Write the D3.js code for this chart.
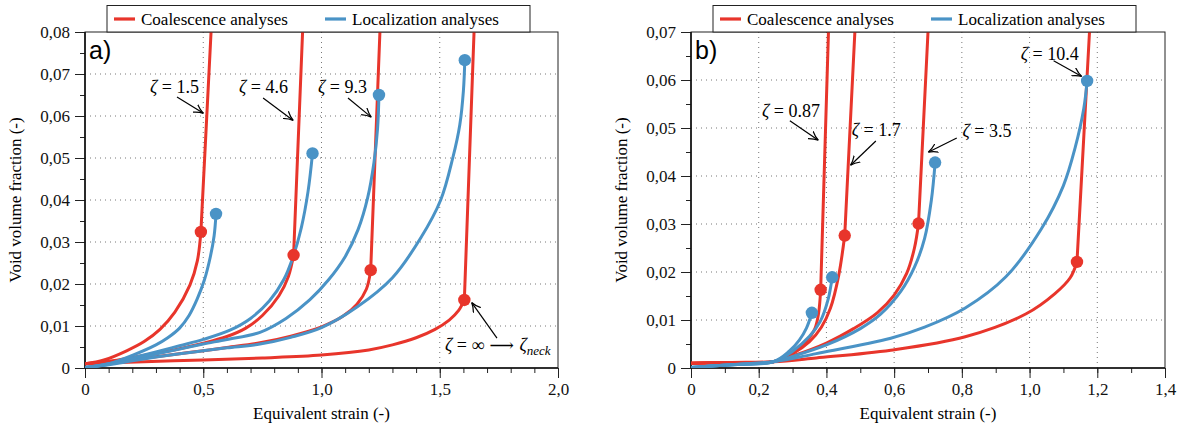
<!DOCTYPE html>
<html>
<head>
<meta charset="utf-8">
<script src="https://cdn.jsdelivr.net/npm/d3@7"></script>
<style>
body { margin: 0; background: #fff; }
</style>
</head>
<body>
<svg id="chart" width="1182" height="428" style="font-family: 'Liberation Serif', 'Times New Roman', serif"></svg>
<script>
// ---- panel a) data : [equivalent strain, void volume fraction]
var strainTicksA = [0, 0.5, 1.0, 1.5, 2.0];
var strainLabelsA = ["0", "0,5", "1,0", "1,5", "2,0"];
var fracTicksA = [0, 0.01, 0.02, 0.03, 0.04, 0.05, 0.06, 0.07, 0.08];
var fracLabelsA = ["0", "0,01", "0,02", "0,03", "0,04", "0,05", "0,06", "0,07", "0,08"];

var coalA_1_5 = [[0,0.001],[0.08,0.0019],[0.176,0.0041],[0.25,0.0063],[0.317,0.0092],[0.38,0.0133],[0.444,0.0198],[0.475,0.0255],[0.49,0.0324],[0.533,0.08]];
var coalA_4_6 = [[0,0.001],[0.1,0.0016],[0.2,0.0025],[0.3,0.0035],[0.4,0.0046],[0.5,0.0059],[0.6,0.0075],[0.68,0.0095],[0.75,0.0125],[0.82,0.0172],[0.86,0.0218],[0.882,0.0269],[0.92,0.08]];
var coalA_9_3 = [[0,0.001],[0.1,0.0014],[0.2,0.002],[0.3,0.0027],[0.4,0.0034],[0.5,0.0041],[0.6,0.0049],[0.74,0.006],[0.87,0.0076],[1.0,0.0098],[1.09,0.0123],[1.15,0.0152],[1.19,0.0188],[1.208,0.0233],[1.247,0.08]];
var coalA_inf = [[0,0.001],[0.25,0.0015],[0.5,0.0019],[0.75,0.0024],[1.0,0.0031],[1.2,0.0043],[1.3,0.0055],[1.4,0.0072],[1.48,0.0092],[1.54,0.0114],[1.58,0.0137],[1.604,0.0162],[1.645,0.08]];

var locA_1_5 = [[0,0.0001],[0.1,0.001],[0.2,0.003],[0.3,0.0055],[0.35,0.0072],[0.4,0.0095],[0.44,0.0125],[0.475,0.0165],[0.505,0.021],[0.53,0.0265],[0.546,0.0315],[0.554,0.0367]];
var locA_4_6 = [[0,0.0001],[0.1,0.001],[0.2,0.0024],[0.3,0.0038],[0.4,0.0053],[0.5,0.0068],[0.613,0.009],[0.7,0.0118],[0.78,0.016],[0.84,0.021],[0.88,0.0265],[0.915,0.0335],[0.943,0.042],[0.962,0.0511]];
var locA_9_3 = [[0,0.0001],[0.1,0.0009],[0.2,0.0021],[0.3,0.0033],[0.4,0.0045],[0.5,0.0057],[0.6,0.0068],[0.74,0.0085],[0.85,0.0118],[0.95,0.0162],[1.03,0.021],[1.1,0.0265],[1.155,0.033],[1.195,0.0405],[1.222,0.049],[1.237,0.057],[1.243,0.065]];
var locA_inf = [[0,0.0001],[0.1,0.0008],[0.2,0.0017],[0.3,0.0026],[0.4,0.0034],[0.5,0.0041],[0.6,0.0048],[0.74,0.0057],[0.87,0.0073],[1.0,0.0096],[1.15,0.0145],[1.3,0.0215],[1.42,0.031],[1.504,0.04],[1.555,0.05],[1.585,0.058],[1.6,0.066],[1.606,0.0733]];

var coalDotsA = [[0.49,0.0324],[0.882,0.0269],[1.208,0.0233],[1.604,0.0162]];
var locDotsA = [[0.554,0.0367],[0.962,0.0511],[1.243,0.065],[1.606,0.0733]];

// ---- panel b)
var strainTicksB = [0, 0.2, 0.4, 0.6, 0.8, 1.0, 1.2, 1.4];
var strainLabelsB = ["0", "0,2", "0,4", "0,6", "0,8", "1,0", "1,2", "1,4"];
var fracTicksB = [0, 0.01, 0.02, 0.03, 0.04, 0.05, 0.06, 0.07];
var fracLabelsB = ["0", "0,01", "0,02", "0,03", "0,04", "0,05", "0,06", "0,07"];

var coalB_0_87 = [[0,0.001],[0.12,0.00115],[0.243,0.0013],[0.3,0.003],[0.34,0.0055],[0.366,0.0082],[0.377,0.0115],[0.383,0.0163],[0.406,0.07]];
var coalB_1_7 = [[0,0.001],[0.12,0.00115],[0.243,0.0013],[0.3,0.003],[0.35,0.0055],[0.385,0.0085],[0.412,0.0125],[0.436,0.0192],[0.454,0.0276],[0.484,0.07]];
var coalB_3_5 = [[0,0.001],[0.12,0.00115],[0.243,0.0013],[0.3,0.0025],[0.4,0.0052],[0.48,0.0082],[0.55,0.0115],[0.6,0.0152],[0.637,0.0197],[0.66,0.025],[0.672,0.0301],[0.70,0.07]];
var coalB_10_4 = [[0,0.001],[0.12,0.00115],[0.243,0.0013],[0.37,0.0021],[0.59,0.0037],[0.81,0.0065],[0.99,0.0113],[1.075,0.0155],[1.12,0.0188],[1.14,0.0221],[1.177,0.07]];

var locB_0_87 = [[0,0.0001],[0.12,0.0007],[0.243,0.0013],[0.29,0.0035],[0.32,0.0058],[0.341,0.0083],[0.357,0.0115]];
var locB_1_7 = [[0,0.0001],[0.12,0.0007],[0.243,0.0013],[0.3,0.0035],[0.35,0.0066],[0.381,0.0096],[0.405,0.0143],[0.417,0.0189]];
var locB_3_5 = [[0,0.0001],[0.12,0.0007],[0.243,0.0013],[0.3,0.0024],[0.4,0.0048],[0.5,0.0082],[0.56,0.0112],[0.62,0.016],[0.66,0.021],[0.69,0.027],[0.71,0.035],[0.721,0.0428]];
var locB_10_4 = [[0,0.0001],[0.12,0.0007],[0.243,0.0013],[0.37,0.003],[0.59,0.0062],[0.69,0.0085],[0.81,0.0125],[0.93,0.019],[1.035,0.029],[1.1,0.038],[1.135,0.046],[1.16,0.054],[1.17,0.0598]];

var coalDotsB = [[0.383,0.0163],[0.454,0.0276],[0.672,0.0301],[1.14,0.0221]];
var locDotsB = [[0.357,0.0115],[0.417,0.0189],[0.721,0.0428],[1.17,0.0598]];

var legendNames = ["Coalescence analyses", "Localization analyses"];
var red = "#e8352b", blue = "#4a93c6";
var serif = "'Liberation Serif', 'Times New Roman', serif";

var svg = d3.select("#chart");

var defs = svg.append("defs");
defs.append("marker")
    .attr("id", "arrow")
    .attr("viewBox", "0 -5 10 10")
    .attr("refX", 9).attr("refY", 0)
    .attr("markerWidth", 10).attr("markerHeight", 10)
    .attr("markerUnits", "userSpaceOnUse")
    .attr("orient", "auto")
  .append("path")
    .attr("d", "M0,-4.5 Q5,-1 9.5,0 Q5,1 0,4.5")
    .attr("fill", "none")
    .attr("stroke", "#000")
    .attr("stroke-width", 1.2);

function drawPanel(p) {
  var top = 32, bottom = 368;
  var x = d3.scaleLinear().domain([0, p.xMax]).range([p.left, p.right]);
  var y = d3.scaleLinear().domain([0, p.yMax]).range([bottom, top]);
  var g = svg.append("g");

  defs.append("clipPath").attr("id", "clip" + p.id)
    .append("rect").attr("x", p.left).attr("y", top)
    .attr("width", p.right - p.left).attr("height", bottom - top);

  // dotted grid
  g.selectAll(".vg").data(p.xTicks.slice(1, -1)).enter().append("line")
      .attr("x1", d => x(d)).attr("x2", d => x(d))
      .attr("y1", top).attr("y2", bottom)
      .attr("stroke", "#777").attr("stroke-width", 1).attr("stroke-dasharray", "1,4");
  g.selectAll(".hg").data(p.yTicks.slice(1, -1)).enter().append("line")
      .attr("y1", d => y(d)).attr("y2", d => y(d))
      .attr("x1", p.left).attr("x2", p.right)
      .attr("stroke", "#777").attr("stroke-width", 1).attr("stroke-dasharray", "1,4");

  // frame
  g.append("rect").attr("x", p.left).attr("y", top)
      .attr("width", p.right - p.left).attr("height", bottom - top)
      .attr("fill", "none").attr("stroke", "#222").attr("stroke-width", 1);

  // axes
  var xMinor = d3.range(0, p.xMax + 1e-9, p.xMinorStep);
  var yMinor = d3.range(0, p.yMax + 1e-9, 0.005);
  g.append("g").attr("transform", "translate(0," + bottom + ")")
      .call(d3.axisBottom(x).tickValues(xMinor).tickSize(5).tickFormat(""))
      .call(a => a.select(".domain").remove());
  g.append("g").attr("transform", "translate(" + p.left + ",0)")
      .call(d3.axisLeft(y).tickValues(yMinor).tickSize(5).tickFormat(""))
      .call(a => a.select(".domain").remove());
  var xa = g.append("g").attr("transform", "translate(0," + bottom + ")")
      .call(d3.axisBottom(x).tickValues(p.xTicks).tickSize(10).tickPadding(5)
        .tickFormat((d, i) => p.xLabels[i]));
  var ya = g.append("g").attr("transform", "translate(" + p.left + ",0)")
      .call(d3.axisLeft(y).tickValues(p.yTicks).tickSize(10).tickPadding(5)
        .tickFormat((d, i) => p.yLabels[i]));
  [xa, ya].forEach(function (a) {
    a.select(".domain").remove();
    a.attr("font-family", serif).attr("font-size", 17);
    a.selectAll("text").style("font-family", serif).style("font-size", "17px").attr("fill", "#111");
  });
  svg.selectAll(".tick line").attr("stroke", "#222");
  g.append("line").attr("x1", p.left).attr("x2", p.right).attr("y1", bottom).attr("y2", bottom)
      .attr("stroke", "#111").attr("stroke-width", 1.6);
  g.append("line").attr("x1", p.left).attr("x2", p.left).attr("y1", top).attr("y2", bottom)
      .attr("stroke", "#111").attr("stroke-width", 1.6);

  // axis titles
  g.append("text").attr("x", (p.left + p.right) / 2).attr("y", 419)
      .attr("text-anchor", "middle")
      .style("font-family", serif).style("font-size", "17px")
      .text("Equivalent strain (-)");
  g.append("text")
      .attr("transform", "translate(" + (p.left - 64) + "," + ((top + bottom) / 2) + ") rotate(-90)")
      .attr("text-anchor", "middle")
      .style("font-family", serif).style("font-size", "17px")
      .text("Void volume fraction (-)");

  // curves
  var line = d3.line().x(d => x(d[0])).y(d => y(d[1])).curve(d3.curveCatmullRom.alpha(0.5));
  var lines = g.append("g").attr("clip-path", "url(#clip" + p.id + ")");
  p.coal.forEach(function (s, i) {
    var dot = p.coalDots[i];
    var pre = s.filter(d => d[0] <= dot[0]);
    var post = s.filter(d => d[0] >= dot[0]);
    [pre, post].forEach(function (part) {
      lines.append("path").datum(part)
          .attr("fill", "none").attr("stroke", red).attr("stroke-width", 3)
          .attr("stroke-linejoin", "round").attr("stroke-linecap", "round")
          .attr("d", line);
    });
  });
  p.loc.forEach(function (s) {
    lines.append("path").datum(s)
        .attr("fill", "none").attr("stroke", blue).attr("stroke-width", 3)
        .attr("stroke-linejoin", "round").attr("stroke-linecap", "round")
        .attr("d", line);
  });
  g.selectAll(".cdot").data(p.coalDots).enter().append("circle")
      .attr("cx", d => x(d[0])).attr("cy", d => y(d[1])).attr("r", 6.2).attr("fill", red);
  g.selectAll(".ldot").data(p.locDots).enter().append("circle")
      .attr("cx", d => x(d[0])).attr("cy", d => y(d[1])).attr("r", 6.2).attr("fill", blue);

  // annotations
  p.notes.forEach(function (n) {
    g.append("line")
        .attr("x1", x(n.from[0])).attr("y1", y(n.from[1]))
        .attr("x2", x(n.to[0])).attr("y2", y(n.to[1]))
        .attr("stroke", "#000").attr("stroke-width", 1.2)
        .attr("marker-end", "url(#arrow)");
    var t = g.append("text").attr("x", x(n.at[0])).attr("y", y(n.at[1]))
        .attr("text-anchor", n.anchor)
        .style("font-family", serif).style("font-size", "18px");
    t.append("tspan").style("font-style", "italic").text("ζ");
    t.append("tspan").text(" = " + n.text);
    if (n.sub) {
      t.append("tspan").style("font-family", "'DejaVu Serif', serif").style("font-size", "17px")
          .text(" ⟶ ");
      t.append("tspan").style("font-style", "italic").text("ζ");
      t.append("tspan").style("font-style", "italic").style("font-size", "13px")
          .attr("dy", 4).text(n.sub);
    }
  });

  // panel letter
  g.append("text").attr("x", p.left + 4).attr("y", top + 27)
      .style("font-family", "'Liberation Sans', Arial, sans-serif").style("font-size", "25px")
      .text(p.letter);

  // legend
  var lx = p.left + 22;
  var lg = g.append("g");
  lg.append("rect").attr("x", lx).attr("y", 5.5).attr("width", 423).attr("height", top - 5.5)
      .attr("fill", "#fff").attr("stroke", "#222").attr("stroke-width", 1);
  [[red, 7, 34], [blue, 218, 245]].forEach(function (e, i) {
    lg.append("line").attr("x1", lx + e[1]).attr("x2", lx + e[1] + 21)
        .attr("y1", 19).attr("y2", 19).attr("stroke", e[0]).attr("stroke-width", 3.2);
    lg.append("text").attr("x", lx + e[2]).attr("y", 25)
        .style("font-family", serif).style("font-size", "17px")
        .text(legendNames[i]);
  });
}

drawPanel({
  id: "a", letter: "a)", left: 85, right: 558, xMax: 2.0, yMax: 0.08, xMinorStep: 0.1,
  xTicks: strainTicksA, xLabels: strainLabelsA, yTicks: fracTicksA, yLabels: fracLabelsA,
  coal: [coalA_1_5, coalA_4_6, coalA_9_3, coalA_inf],
  loc: [locA_1_5, locA_4_6, locA_9_3, locA_inf],
  coalDots: coalDotsA, locDots: locDotsA,
  notes: [
    { text: "1.5", at: [0.482, 0.0655], anchor: "end", from: [0.389, 0.0645], to: [0.499, 0.0607] },
    { text: "4.6", at: [0.858, 0.0655], anchor: "end", from: [0.753, 0.0643], to: [0.879, 0.059] },
    { text: "9.3", at: [1.192, 0.0655], anchor: "end", from: [1.112, 0.0643], to: [1.209, 0.0598] },
    { text: "∞", sub: "neck", at: [1.522, 0.0041], anchor: "start", from: [1.742, 0.0071], to: [1.636, 0.0155] }
  ]
});

drawPanel({
  id: "b", letter: "b)", left: 691, right: 1165, xMax: 1.4, yMax: 0.07, xMinorStep: 0.1,
  xTicks: strainTicksB, xLabels: strainLabelsB, yTicks: fracTicksB, yLabels: fracLabelsB,
  coal: [coalB_0_87, coalB_1_7, coalB_3_5, coalB_10_4],
  loc: [locB_0_87, locB_1_7, locB_3_5, locB_10_4],
  coalDots: coalDotsB, locDots: locDotsB,
  notes: [
    { text: "0.87", at: [0.381, 0.0523], anchor: "end", from: [0.292, 0.0515], to: [0.375, 0.0475] },
    { text: "1.7", at: [0.475, 0.0483], anchor: "start", from: [0.546, 0.0473], to: [0.472, 0.0423] },
    { text: "3.5", at: [0.802, 0.0481], anchor: "start", from: [0.785, 0.0479], to: [0.702, 0.045] },
    { text: "10.4", at: [1.145, 0.0642], anchor: "end", from: [1.071, 0.064], to: [1.153, 0.0608] }
  ]
});
</script>
</body>
</html>
